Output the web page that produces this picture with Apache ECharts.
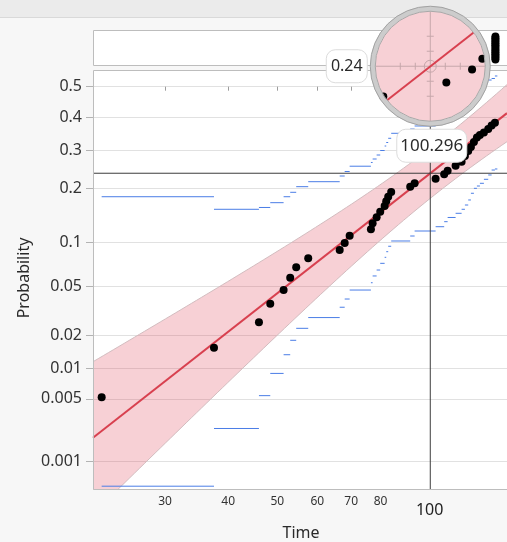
<!DOCTYPE html>
<html>
<head>
<meta charset="utf-8">
<script src="https://cdn.jsdelivr.net/npm/echarts@6/dist/echarts.min.js"></script>
<style>
  html, body { margin: 0; padding: 0; background: #f7f7f7; }
  #chart { width: 507px; height: 542px; }
</style>
</head>
<body>
<div id="chart"></div>
<script>
// ---- data ---------------------------------------------------------------
// Failure times and their plotting-position probabilities
const failureTimes = [22.49, 37.49, 46.0, 48.43, 51.46, 53.03, 54.5, 57.56, 66.42, 67.95,
  69.5, 76.56, 77.16, 78.58, 79.87, 81.49, 82.09, 82.83, 83.96, 91.55,
  93.40, 102.77, 106.86, 108.54, 112.55, 115.67, 117.42, 119.20, 120.67, 122.33,
  124.01, 125.71, 128.02, 130.56, 132.59, 134.59];
const failureProbs = [0.0052, 0.0156, 0.026, 0.0366, 0.0467, 0.0575, 0.0681, 0.0784, 0.0889, 0.0986,
  0.1095, 0.1197, 0.1299, 0.1406, 0.1512, 0.1625, 0.1722, 0.182, 0.1925, 0.2047,
  0.2127, 0.2239, 0.2349, 0.2441, 0.2573, 0.268, 0.2837, 0.2979, 0.3094, 0.3241,
  0.3376, 0.3451, 0.3528, 0.3635, 0.3744, 0.3832];
// End of the last nonparametric step
const lastStepEnd = 136.1;
// Nonparametric simultaneous limits, one value per step between failures
const upperLimit = [0.182, 0.1559, 0.1595, 0.1693, 0.182, 0.1918, 0.2047, 0.2166, 0.2306, 0.2421,
  0.2559, 0.2659, 0.2754, 0.2865, 0.2993, 0.3123, 0.3226, 0.3352, 0.3503, 0.3635,
  0.3729, 0.3886, 0.4013, 0.4173, 0.4335, 0.4462, 0.4563, 0.4661, 0.4758, 0.4858,
  0.4957, 0.5056, 0.5155, 0.522, 0.527, 0.5352];
const lowerLimit = [0.00049, 0.0024, 0.0054, 0.009, 0.0135, 0.0182, 0.0231, 0.0284, 0.0344, 0.0399,
  0.0467, 0.0529, 0.0592, 0.0652, 0.0725, 0.0796, 0.0867, 0.094, 0.1015, 0.109,
  0.1169, 0.124, 0.1327, 0.1403, 0.1481, 0.1559, 0.1645, 0.175, 0.1896, 0.2009,
  0.2063, 0.2127, 0.2224, 0.2332, 0.2459, 0.2486];
// Units stacked in the upper strip
const stripTimes = [134.9, 134.9, 134.9, 134.9, 134.9, 134.9, 134.9,
  134.9, 134.9, 134.9, 134.9, 134.9, 134.9, 134.9];
// Lognormal fit (log scale location / scale) and covariance of the estimates
const fitMu = 5.1107, fitSigma = 0.7033;
const varMu = 0.00925, varSigma = 0.00896, covMuSigma = 0.00583;
// Crosshair readout
const crossTime = 100.296, crossProb = 0.2376;
// Axis ticks and ranges
const yTickProbs = [0.001, 0.005, 0.01, 0.02, 0.05, 0.1, 0.2, 0.3, 0.4, 0.5];
const yTickLabels = ['0.001', '0.005', '0.01', '0.02', '0.05', '0.1', '0.2', '0.3', '0.4', '0.5'];
const xTickTimes = [30, 40, 50, 60, 70, 80, 90, 100];
const xTickLabels = ['30', '40', '50', '60', '70', '80', '', '100'];
const timeRange = [21.62, 142.2];
const probRange = [0.000438, 0.5548];

// ---- helpers --------------------------------------------------------------
function probit(p) {
  const a = [-3.969683028665376e+01, 2.209460984245205e+02, -2.759285104469687e+02, 1.383577518672690e+02, -3.066479806614716e+01, 2.506628277459239e+00];
  const b = [-5.447609879822406e+01, 1.615858368580409e+02, -1.556989798598866e+02, 6.680131188771972e+01, -1.328068155288572e+01];
  const c = [-7.784894002430293e-03, -3.223964580411365e-01, -2.400758277161838e+00, -2.549732539343734e+00, 4.374664141464968e+00, 2.938163982698783e+00];
  const d = [7.784695709041462e-03, 3.224671290700398e-01, 2.445134137142996e+00, 3.754408661907416e+00];
  const pl = 0.02425;
  if (p < pl) {
    const q = Math.sqrt(-2 * Math.log(p));
    return (((((c[0]*q+c[1])*q+c[2])*q+c[3])*q+c[4])*q+c[5]) / ((((d[0]*q+d[1])*q+d[2])*q+d[3])*q+1);
  }
  if (p > 1 - pl) {
    const q = Math.sqrt(-2 * Math.log(1 - p));
    return -(((((c[0]*q+c[1])*q+c[2])*q+c[3])*q+c[4])*q+c[5]) / ((((d[0]*q+d[1])*q+d[2])*q+d[3])*q+1);
  }
  const q = p - 0.5, r = q * q;
  return (((((a[0]*r+a[1])*r+a[2])*r+a[3])*r+a[4])*r+a[5])*q / (((((b[0]*r+b[1])*r+b[2])*r+b[3])*r+b[4])*r+1);
}
const lg = Math.log10;
function fitZ(logT) { return (logT * Math.LN10 - fitMu) / fitSigma; }
function seZ(z) { return Math.sqrt(varMu + 2 * z * covMuSigma + z * z * varSigma) / fitSigma; }
function nearest(arr, v) {
  let best = 0;
  arr.forEach((a, i) => { if (Math.abs(a - v) < Math.abs(arr[best] - v)) best = i; });
  return best;
}

const FONT = "'Noto Sans', sans-serif";
const xExt = [lg(timeRange[0]), lg(timeRange[1])];
const yExt = [probit(probRange[0]), probit(probRange[1])];
const yTickZ = yTickProbs.map(probit);
const xTickLog = xTickTimes.map(lg);

const BAND_FILL = 'rgba(222,60,80,0.24)';
const BAND_EDGE = '#d3bcbf';
const FIT_RED = '#d8404f';
const STEP_BLUE = '#4a7de6';
const FRAME = '#bdbdbd';

// ---- series data built from the arrays --------------------------------------
const points = failureTimes.map((t, i) => [lg(t), probit(failureProbs[i])]);
const stepBreaks = failureTimes.concat([lastStepEnd]);
const upperSteps = upperLimit.map((p, i) => [lg(stepBreaks[i]), lg(stepBreaks[i + 1]), probit(p)]);
const lowerSteps = lowerLimit.map((p, i) => [lg(stepBreaks[i]), lg(stepBreaks[i + 1]), probit(p)]);
const stripPoints = stripTimes.map((t, k) => [lg(t), k]);

function renderStep(params, api) {
  const a = api.coord([api.value(0), api.value(2)]);
  const b = api.coord([api.value(1), api.value(2)]);
  return { type: 'line', shape: { x1: a[0], y1: a[1], x2: b[0], y2: b[1] },
           style: { stroke: STEP_BLUE, lineWidth: 1 } };
}

function renderBand(params, api) {
  const lo = [], hi = [];
  const n = 80;
  for (let k = 0; k <= n; k++) {
    const lt = xExt[0] + (xExt[1] - xExt[0]) * k / n;
    const z = fitZ(lt), s = 1.96 * seZ(z);
    lo.push(api.coord([lt, z - s]));
    hi.push(api.coord([lt, z + s]));
  }
  return {
    type: 'group',
    children: [
      { type: 'polygon', shape: { points: lo.concat(hi.slice().reverse()) }, style: { fill: BAND_FILL } },
      { type: 'polyline', shape: { points: lo }, style: { stroke: BAND_EDGE, lineWidth: 1, fill: null } },
      { type: 'polyline', shape: { points: hi }, style: { stroke: BAND_EDGE, lineWidth: 1, fill: null } }
    ]
  };
}

// Frame edges (left, top, bottom) of a grid; the right side runs off the page
function renderFrame(params, api) {
  const cs = params.coordSys;
  const l = Math.round(cs.x) + 0.5, t = Math.round(cs.y) + 0.5, b = Math.round(cs.y + cs.height) - 0.5;
  const r = cs.x + cs.width + 5;
  return {
    type: 'polyline',
    shape: { points: [[r, t], [l, t], [l, b], [r, b]] },
    style: { stroke: FRAME, lineWidth: 1, fill: null }
  };
}

// Magnifier geometry
const MAG = 3, R_IN = 55, R_OUT = 60, MAG_OFFSET = 107;

function renderCrosshair(params, api) {
  const cp = api.coord([api.value(0), api.value(1)]);
  const cs = params.coordSys;
  const lensBottom = cp[1] - MAG_OFFSET + R_OUT;
  return {
    type: 'group',
    children: [
      { type: 'line', shape: { x1: cs.x, y1: cp[1], x2: cs.x + cs.width, y2: cp[1] },
        style: { stroke: '#3c3c3c', lineWidth: 1 } },
      { type: 'line', shape: { x1: cp[0], y1: lensBottom, x2: cp[0], y2: cs.y + cs.height },
        style: { stroke: '#3c3c3c', lineWidth: 1 } }
    ]
  };
}

function renderLens(params, api) {
  const cp = api.coord([api.value(0), api.value(1)]);
  const c = [cp[0], cp[1] - MAG_OFFSET];
  const mag = p => [c[0] + MAG * (p[0] - cp[0]), c[1] + MAG * (p[1] - cp[1])];
  const kids = [];
  kids.push({ type: 'circle', shape: { cx: c[0], cy: c[1], r: R_IN }, style: { fill: '#fff' } });
  kids.push({ type: 'circle', shape: { cx: c[0], cy: c[1], r: R_IN }, style: { fill: BAND_FILL } });

  // magnified reticle
  const ret = '#c6a7ab';
  kids.push({ type: 'line', shape: { x1: c[0] - R_IN, y1: c[1], x2: c[0] + R_IN, y2: c[1] }, style: { stroke: ret, lineWidth: 1 } });
  kids.push({ type: 'line', shape: { x1: c[0], y1: c[1] - R_IN, x2: c[0], y2: c[1] + R_IN }, style: { stroke: ret, lineWidth: 1 } });
  [-30, -15, 15, 30].forEach(o => {
    kids.push({ type: 'line', shape: { x1: c[0] + o, y1: c[1] - 3.5, x2: c[0] + o, y2: c[1] + 3.5 }, style: { stroke: ret, lineWidth: 1 } });
    kids.push({ type: 'line', shape: { x1: c[0] - 3.5, y1: c[1] + o, x2: c[0] + 3.5, y2: c[1] + o }, style: { stroke: ret, lineWidth: 1 } });
  });
  kids.push({ type: 'circle', shape: { cx: c[0], cy: c[1], r: 6 }, style: { fill: null, stroke: ret, lineWidth: 1 } });

  // magnified fit line, clipped to the lens
  const q0 = mag(api.coord([xExt[0], fitZ(xExt[0])]));
  const q1 = mag(api.coord([xExt[1], fitZ(xExt[1])]));
  let dx = q1[0] - q0[0], dy = q1[1] - q0[1];
  const len = Math.hypot(dx, dy); dx /= len; dy /= len;
  const fx = q0[0] - c[0], fy = q0[1] - c[1];
  const bb = fx * dx + fy * dy, cc = fx * fx + fy * fy - R_IN * R_IN;
  const disc = bb * bb - cc;
  if (disc > 0) {
    const s1 = -bb - Math.sqrt(disc), s2 = -bb + Math.sqrt(disc);
    kids.push({ type: 'line', shape: { x1: q0[0] + s1 * dx, y1: q0[1] + s1 * dy, x2: q0[0] + s2 * dx, y2: q0[1] + s2 * dy },
                style: { stroke: FIT_RED, lineWidth: 2 } });
  }
  // magnified data points (the rim hides whatever pokes past the glass)
  points.forEach(pt => {
    const m = mag(api.coord(pt));
    if (Math.hypot(m[0] - c[0], m[1] - c[1]) < R_IN + 1.5) {
      kids.push({ type: 'circle', shape: { cx: m[0], cy: m[1], r: 4 }, style: { fill: '#000' } });
    }
  });
  // lens rim
  kids.push({ type: 'circle', shape: { cx: c[0], cy: c[1], r: (R_IN + R_OUT) / 2 }, style: { fill: null, stroke: '#cccccc', lineWidth: 5 } });
  kids.push({ type: 'circle', shape: { cx: c[0], cy: c[1], r: R_OUT }, style: { fill: null, stroke: '#a2a2a2', lineWidth: 1 } });
  kids.push({ type: 'circle', shape: { cx: c[0], cy: c[1], r: R_IN }, style: { fill: null, stroke: '#a8a8a8', lineWidth: 1 } });

  // readout boxes
  const pw = 41, ph = 33;
  const px = c[0] - R_OUT - 3 - pw, py = c[1] - ph / 2;
  kids.push({ type: 'rect', shape: { x: px, y: py, width: pw, height: ph, r: 9 }, style: { fill: '#fff', stroke: '#dcdcdc', lineWidth: 1 } });
  kids.push({ type: 'text', style: { text: crossProb.toFixed(2), x: px + pw / 2, y: c[1], align: 'center', verticalAlign: 'middle',
             fill: '#2a2a2a', fontSize: 16, fontFamily: FONT } });
  const tw = 70, th = 33;
  const tx = cp[0] + 1.5 - tw / 2, ty = cp[1] - 44;
  kids.push({ type: 'rect', shape: { x: tx, y: ty, width: tw, height: th, r: 9 }, style: { fill: '#fff', stroke: '#dcdcdc', lineWidth: 1 } });
  kids.push({ type: 'text', style: { text: crossTime.toFixed(3), x: tx + tw / 2, y: ty + th / 2, align: 'center', verticalAlign: 'middle',
             fill: '#2a2a2a', fontSize: 17, fontFamily: FONT } });
  return { type: 'group', children: kids };
}

// ---- chart ------------------------------------------------------------------
const chart = echarts.init(document.getElementById('chart'), null, { renderer: 'canvas' });
chart.setOption({
  animation: false,
  backgroundColor: '#f7f7f7',
  graphic: [
    { type: 'rect', left: 0, top: 0, shape: { width: 507, height: 17 }, style: { fill: '#ebebeb' }, z: 0 },
    { type: 'rect', left: 0, top: 17, shape: { width: 507, height: 1 }, style: { fill: '#d9d9d9' }, z: 0 },
    { type: 'text', x: 301, y: 533, style: { text: 'Time', align: 'center', verticalAlign: 'middle', fill: '#2a2a2a', fontSize: 16, fontFamily: FONT } },
    { type: 'text', x: 24, y: 278, rotation: Math.PI / 2, style: { text: 'Probability', align: 'center', verticalAlign: 'middle', fill: '#2a2a2a', fontSize: 16, fontFamily: FONT } }
  ],
  grid: [
    { left: 93, top: 70, width: 414, height: 420, show: true, backgroundColor: '#fff', borderWidth: 0 },
    { left: 93, top: 30, width: 414, height: 36, show: true, backgroundColor: '#fff', borderWidth: 0 }
  ],
  xAxis: [
    {
      type: 'value', gridIndex: 0, min: xExt[0], max: xExt[1],
      axisLine: { show: false },
      axisTick: { show: true, inside: false, length: 4, customValues: xTickLog, lineStyle: { color: '#9c9c9c' } },
      axisLabel: {
        customValues: xTickLog, margin: 6, fontSize: 12, color: '#333', fontFamily: FONT,
        formatter: v => {
          const i = nearest(xTickLog, v);
          const lab = xTickLabels[i];
          return Number.isInteger(Math.log10(xTickTimes[i])) ? '{big|' + lab + '}' : lab;
        },
        rich: { big: { fontSize: 16, color: '#222', fontFamily: FONT, padding: [6, 0, 0, 0] } }
      },
      splitLine: { show: false }
    },
    { type: 'value', gridIndex: 1, min: xExt[0], max: xExt[1], show: false }
  ],
  yAxis: [
    {
      type: 'value', gridIndex: 0, min: yExt[0], max: yExt[1],
      axisLine: { show: false },
      axisTick: { show: true, inside: false, length: 7, customValues: yTickZ, lineStyle: { color: '#b3b3b3' } },
      axisLabel: {
        customValues: yTickZ, margin: 11, fontSize: 16, color: '#333', fontFamily: FONT,
        formatter: v => yTickLabels[nearest(yTickZ, v)]
      },
      splitLine: { show: true, lineStyle: { color: '#e1e1e1', width: 1 } }
    },
    { type: 'value', gridIndex: 1, min: -3.67, max: 16.68, show: false }
  ],
  series: [
    { name: 'Confidence band', type: 'custom', xAxisIndex: 0, yAxisIndex: 0, clip: true, silent: true, z: 1,
      data: [[xExt[0], yExt[0]]], renderItem: renderBand },
    { name: 'Upper limit', type: 'custom', clip: true, silent: true, z: 3, data: upperSteps, renderItem: renderStep },
    { name: 'Lower limit', type: 'custom', clip: true, silent: true, z: 3, data: lowerSteps, renderItem: renderStep },
    { name: 'Lognormal fit', type: 'line', z: 4, symbol: 'none', silent: true,
      data: [[xExt[0], fitZ(xExt[0])], [xExt[1], fitZ(xExt[1])]],
      lineStyle: { color: FIT_RED, width: 2 } },
    { name: 'Crosshair', type: 'custom', clip: true, silent: true, z: 5,
      data: [[lg(crossTime), probit(crossProb)]], renderItem: renderCrosshair },
    { name: 'Failures', type: 'scatter', z: 6, symbol: 'circle', symbolSize: 8,
      itemStyle: { color: '#000', opacity: 1 }, data: points },
    { name: 'Main frame', type: 'custom', clip: false, silent: true, z: 7,
      data: [[xExt[0], yExt[0]]], renderItem: renderFrame },
    { name: 'Lens', type: 'custom', clip: false, silent: true, z: 10,
      data: [[lg(crossTime), probit(crossProb)]], renderItem: renderLens },
    { name: 'Strip', type: 'scatter', xAxisIndex: 1, yAxisIndex: 1, symbolSize: 8, z: 6,
      itemStyle: { color: '#000', opacity: 1 }, data: stripPoints },
    { name: 'Strip frame', type: 'custom', xAxisIndex: 1, yAxisIndex: 1, clip: false, silent: true, z: 2,
      data: [[xExt[0], 0]], renderItem: renderFrame }
  ]
});
</script>
</body>
</html>
